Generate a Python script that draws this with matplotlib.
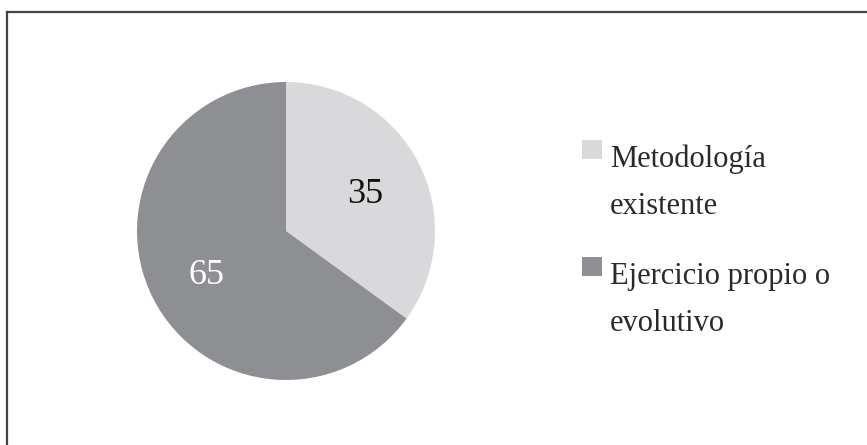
import matplotlib
matplotlib.use("Agg")
import matplotlib.pyplot as plt
from matplotlib.lines import Line2D
from matplotlib.patches import Rectangle

# Datos del gráfico
categorias = ["Metodología\nexistente", "Ejercicio propio o\nevolutivo"]
valores = [35, 65]
colores = ["#d9d9db", "#8e8f93"]
colores_texto = ["#111111", "#ffffff"]

plt.rcParams["font.family"] = ["Liberation Serif", "DejaVu Serif"]

W, H = 867, 445
fig = plt.figure(figsize=(W / 100, H / 100), dpi=100)

# --- Marco (solo borde superior e izquierdo) ---
fig.add_artist(Line2D([7 / W, 1], [1 - 12 / H, 1 - 12 / H], color="#444444",
                      lw=1.6, transform=fig.transFigure))
fig.add_artist(Line2D([7 / W, 7 / W], [0, 1 - 12 / H], color="#444444",
                      lw=1.6, transform=fig.transFigure))

# --- Gráfico circular ---
cx, cy, r = 286, 231, 149
ax = fig.add_axes([(cx - r) / W, (H - cy - r) / H, 2 * r / W, 2 * r / H])
wedges, _, autotexts = ax.pie(valores, colors=colores, startangle=90,
                              counterclock=False, radius=1,
                              autopct=lambda p: f"{p:.0f}", pctdistance=0.6,
                              textprops={"fontsize": 26})
for t, c in zip(autotexts, colores_texto):
    t.set_color(c)
    t.set_verticalalignment("center_baseline")
ax.set_xlim(-1, 1)
ax.set_ylim(-1, 1)
ax.axis("off")

# --- Leyenda (cuadro alineado con la primera línea de cada etiqueta) ---
x_cuadro, y_cuadro, lado = 582, 140, 19
x_texto = 610
paso_entrada = 117
paso_linea = 47
for i, (cat, col) in enumerate(zip(categorias, colores)):
    y0 = y_cuadro + i * paso_entrada
    fig.add_artist(Rectangle((x_cuadro / W, 1 - (y0 + lado) / H), 20 / W, lado / H,
                             facecolor=col, edgecolor="none",
                             transform=fig.transFigure))
    for j, linea in enumerate(cat.split("\n")):
        yb = y0 + 27 + j * paso_linea
        fig.text(x_texto / W, 1 - yb / H, linea, fontsize=22, color="#2a2a2a",
                 ha="left", va="baseline")

fig.savefig("out.png", dpi=100)
